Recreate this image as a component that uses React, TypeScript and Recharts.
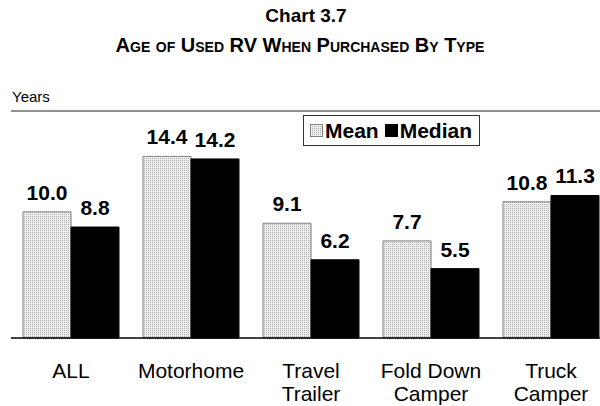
import React from 'react';
import { BarChart, Bar, XAxis, YAxis, ReferenceLine, LabelList } from 'recharts';

const categories = ['ALL', 'Motorhome', 'Travel Trailer', 'Fold Down Camper', 'Truck Camper'];
const categoryLines = [['ALL'], ['Motorhome'], ['Travel', 'Trailer'], ['Fold Down', 'Camper'], ['Truck', 'Camper']];
const meanValues = [10.0, 14.4, 9.1, 7.7, 10.8];
const medianValues = [8.8, 14.2, 6.2, 5.5, 11.3];
const seriesNames = ['Mean', 'Median'];
const yDomain = [0, 18];

const data = categories.map((c, i) => ({ name: c, mean: meanValues[i], median: medianValues[i] }));

const FONT = 'Arial, "Liberation Sans", Helvetica, sans-serif';

const CategoryTick = (props: any) => {
  const { x, payload } = props;
  const idx = categories.indexOf(payload.value);
  const lines = categoryLines[idx] || [payload.value];
  return (
    <g>
      {lines.map((l, i) => (
        <text key={i} x={x} y={378 + i * 23} textAnchor="middle" fontFamily={FONT} fontSize={21} fill="#000">
          {l}
        </text>
      ))}
    </g>
  );
};

const labelStyle = { fontFamily: FONT, fontSize: 21, fontWeight: 700, fill: '#000' };

export default function App() {
  return (
    <div style={{ position: 'fixed', left: 0, top: 0, width: 600, height: 406, overflow: 'hidden', background: '#fff', fontFamily: FONT }}>
      <svg width={0} height={0} style={{ position: 'absolute' }}>
        <defs>
          <pattern id="dots" patternUnits="userSpaceOnUse" width={2} height={2}>
            <rect x={0} y={0} width={2} height={2} fill="#efefef" />
            <rect x={0} y={0} width={1} height={1} fill="#acacac" />
          </pattern>
        </defs>
      </svg>
      <div style={{ position: 'absolute', left: 0, width: 612, top: 5, textAlign: 'center', fontWeight: 700, fontSize: 19, lineHeight: '22px' }}>
        Chart 3.7
      </div>
      <div style={{ position: 'absolute', left: 0, width: 600, top: 34, textAlign: 'center', fontWeight: 700, fontSize: 20, fontVariant: 'small-caps', lineHeight: '22px' }}>
        Age of Used RV When Purchased By Type
      </div>
      <div style={{ position: 'absolute', left: 12, top: 88, fontSize: 15, lineHeight: '17px' }}>Years</div>
      <div style={{ position: 'absolute', left: 0, top: 0 }}>
        <BarChart width={620} height={406} data={data} margin={{ top: 111, right: 9, bottom: 0, left: 11 }} barCategoryGap="10%" barGap={0}>
          <XAxis dataKey="name" height={68} axisLine={{ stroke: '#000', strokeWidth: 1.5 }} tickLine={false} tick={<CategoryTick />} interval={0} />
          <YAxis width={0} domain={yDomain} tick={false} tickLine={false} axisLine={{ stroke: '#808080' }} />
          <ReferenceLine y={yDomain[1]} stroke="#222" strokeWidth={1} />
          <Bar dataKey="mean" name={seriesNames[0]} fill="url(#dots)" stroke="#808080" strokeWidth={1} isAnimationActive={false}>
            <LabelList dataKey="mean" position="top" offset={12} formatter={(v: any) => Number(v).toFixed(1)} style={labelStyle} />
          </Bar>
          <Bar dataKey="median" name={seriesNames[1]} fill="#000" stroke="#000" isAnimationActive={false}>
            <LabelList dataKey="median" position="top" offset={12} formatter={(v: any) => Number(v).toFixed(1)} style={labelStyle} />
          </Bar>
        </BarChart>
      </div>
      <div style={{ position: 'absolute', left: 303, top: 115, width: 175, height: 29, border: '1px solid #333', background: '#fff', display: 'flex', alignItems: 'center', fontWeight: 700, fontSize: 21, whiteSpace: 'nowrap' }}>
        <svg width={13} height={13} style={{ marginLeft: 6, marginRight: 2, flex: 'none' }}>
          <rect x={0.5} y={0.5} width={12} height={12} fill="url(#dots)" stroke="#808080" />
        </svg>
        <span>{seriesNames[0]}</span>
        <svg width={13} height={13} style={{ marginLeft: 6, marginRight: 2, flex: 'none' }}>
          <rect x={0} y={0} width={13} height={13} fill="#000" />
        </svg>
        <span>{seriesNames[1]}</span>
      </div>
    </div>
  );
}
